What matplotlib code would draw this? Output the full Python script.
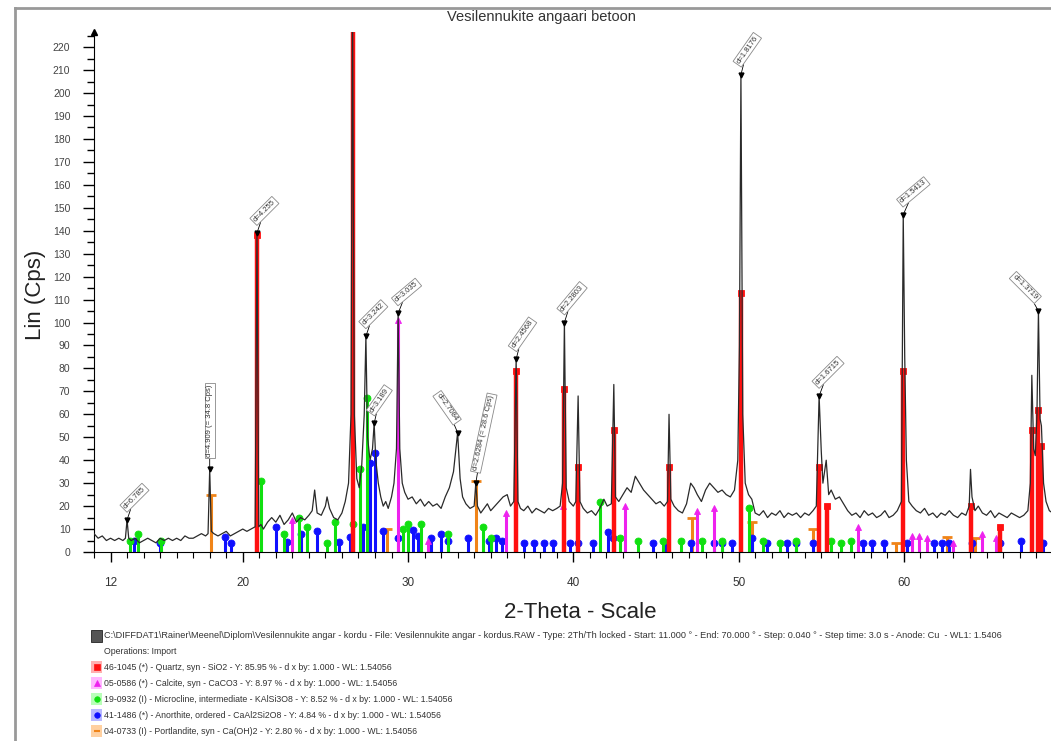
import matplotlib.pyplot as plt
import numpy as np
from matplotlib.lines import Line2D
from matplotlib.patches import Rectangle

plt.rcParams['font.family'] = ['Liberation Sans', 'DejaVu Sans']

W, H = 1051, 741

# measured pattern (2-theta, Lin Cps)
tt = [11.0, 11.25, 11.5, 11.75, 12.0, 12.25, 12.5, 12.75, 12.9, 13.0, 13.1, 13.25, 13.5, 13.75,
      14.0, 14.25, 14.5, 14.75, 15.0, 15.25, 15.5, 15.75, 16.0, 16.25, 16.5, 16.75, 17.0, 17.25,
      17.5, 17.75, 17.9, 18.0, 18.1, 18.25, 18.5, 18.75, 19.0, 19.25, 19.5, 19.75, 20.0, 20.25,
      20.5, 20.75, 20.86, 20.97, 21.1, 21.25, 21.5, 21.75, 22.0, 22.25, 22.5, 22.75, 23.0, 23.25,
      23.5, 23.75, 24.0, 24.2, 24.35, 24.5, 24.75, 25.0, 25.1, 25.25, 25.5, 25.75, 26.0, 26.2,
      26.4, 26.55, 26.64, 26.75, 26.9, 27.05, 27.2, 27.35, 27.45, 27.55, 27.7, 27.85, 27.95, 28.05,
      28.2, 28.35, 28.5, 28.65, 28.8, 29.0, 29.15, 29.3, 29.4, 29.5, 29.65, 29.8, 30.0, 30.25,
      30.5, 30.75, 31.0, 31.25, 31.5, 31.75, 32.0, 32.25, 32.5, 32.75, 33.0, 33.15, 33.3, 33.5,
      33.75, 34.0, 34.1, 34.2, 34.4, 34.6, 34.8, 35.0, 35.25, 35.5, 35.75, 36.0, 36.2, 36.4,
      36.54, 36.65, 36.8, 37.0, 37.25, 37.5, 37.75, 38.0, 38.25, 38.5, 38.75, 39.0, 39.2, 39.35,
      39.46, 39.57, 39.75, 40.0, 40.15, 40.29, 40.4, 40.6, 40.85, 41.1, 41.35, 41.6, 41.85, 42.05,
      42.3, 42.45, 42.55, 42.75, 43.0, 43.25, 43.5, 43.75, 44.0, 44.25, 44.5, 44.75, 45.0, 45.25,
      45.5, 45.7, 45.79, 45.9, 46.1, 46.35, 46.6, 46.85, 47.1, 47.3, 47.5, 47.75, 48.0, 48.25,
      48.5, 48.75, 49.0, 49.25, 49.5, 49.75, 49.95, 50.05, 50.14, 50.25, 50.4, 50.6, 50.8, 51.0,
      51.25, 51.5, 51.75, 52.0, 52.25, 52.5, 52.75, 53.0, 53.25, 53.5, 53.75, 54.0, 54.25, 54.5,
      54.7, 54.87, 55.0, 55.1, 55.3, 55.45, 55.6, 55.85, 56.1, 56.35, 56.6, 56.85, 57.1, 57.35,
      57.6, 57.85, 58.1, 58.35, 58.6, 58.85, 59.1, 59.35, 59.6, 59.85, 59.96, 60.05, 60.15, 60.3,
      60.5, 60.75, 61.0, 61.25, 61.5, 61.75, 62.0, 62.25, 62.5, 62.75, 63.0, 63.25, 63.5, 63.75,
      63.95, 64.03, 64.12, 64.3, 64.5, 64.75, 65.0, 65.25, 65.5, 65.75, 66.0, 66.25, 66.5, 66.75,
      67.0, 67.25, 67.5, 67.65, 67.74, 67.85, 67.95, 68.05, 68.14, 68.24, 68.32, 68.45, 68.6, 68.8,
      69.0]
cps = [8, 6, 7, 5, 6, 5, 6, 5, 6, 14, 6, 5, 6, 4,
       5, 6, 5, 4, 6, 5, 6, 5, 6, 5, 7, 6, 6, 7,
       8, 7, 8, 36, 9, 8, 7, 8, 9, 7, 8, 9, 10, 9,
       10, 11, 139, 11, 12, 10, 13, 15, 13, 16, 12, 14, 17, 13,
       15, 14, 16, 18, 27, 17, 16, 20, 24, 19, 15, 14, 17, 22,
       30, 60, 240, 60, 32, 28, 38, 60, 94, 50, 40, 45, 56, 40,
       30, 24, 20, 22, 19, 24, 30, 45, 104, 45, 30, 26, 23, 24,
       21, 23, 20, 22, 20, 21, 19, 24, 28, 35, 52, 32, 24, 21,
       19, 20, 30, 20, 17, 19, 21, 18, 20, 22, 24, 25, 20, 22,
       84, 22, 19, 18, 20, 17, 19, 18, 17, 19, 18, 19, 20, 30,
       100, 28, 22, 20, 22, 68, 22, 19, 17, 18, 16, 19, 23, 20,
       21, 73, 24, 22, 25, 28, 26, 33, 30, 27, 25, 23, 21, 22,
       20, 22, 60, 23, 20, 18, 17, 21, 30, 28, 25, 22, 27, 30,
       28, 26, 27, 25, 24, 27, 40, 90, 208, 60, 30, 25, 23, 17,
       16, 18, 15, 17, 16, 18, 15, 17, 16, 17, 15, 17, 16, 18,
       20, 68, 44, 30, 40, 25, 27, 23, 24, 21, 18, 16, 17, 15,
       18, 16, 17, 15, 16, 18, 15, 16, 18, 22, 147, 85, 40, 22,
       20, 18, 17, 19, 16, 17, 15, 17, 16, 18, 16, 15, 17, 16,
       20, 36, 24, 18, 20, 17, 16, 18, 15, 17, 16, 15, 17, 16,
       15, 16, 18, 30, 77, 45, 42, 60, 105, 58, 55, 30, 22, 18,
       17]

# reference patterns (stick positions / heights)
quartz_pos = [20.86, 26.64, 36.54, 39.46, 40.29, 42.45, 45.79, 50.14, 54.87, 55.33, 59.96,
              64.03, 65.79, 67.74, 68.14, 68.32]
quartz_int = [138, 240, 79, 71, 37, 53, 37, 113, 37, 20, 79, 20, 11, 53, 62, 46]

calcite_pos = [23.0, 29.4, 31.2, 35.9, 39.4, 43.1, 47.5, 48.5, 57.2, 60.5, 60.9, 61.4, 63.0,
               64.7, 65.6]
calcite_int = [14, 101, 5, 17, 20, 20, 18, 19, 11, 7, 7, 6, 4, 8, 6]

microcline_pos = [13.2, 13.65, 15.05, 21.1, 22.5, 23.4, 23.9, 25.1, 25.6, 26.7, 27.1, 27.5,
                  29.7, 30.0, 30.8, 32.4, 34.55, 35.0, 41.6, 42.8, 43.9, 45.4, 46.5, 47.8,
                  49.0, 50.6, 51.5, 52.5, 53.5, 55.6, 56.2, 56.8]
microcline_int = [5, 8, 5, 31, 8, 15, 11, 4, 13, 12, 36, 67,
                  10, 12, 12, 8, 11, 6, 22, 6, 5, 5, 5, 5,
                  5, 19, 5, 4, 5, 5, 4, 5]

anorthite_pos = [13.4, 15.0, 18.9, 19.3, 22.0, 22.7, 23.5, 24.5, 25.8, 26.5, 27.3, 27.7, 28.0,
                 28.5, 29.4, 30.3, 30.6, 31.4, 32.0, 32.4, 33.6, 34.9, 35.3, 35.7, 37.0, 37.6,
                 38.2, 38.8, 39.8, 40.3, 41.2, 42.1, 42.4, 44.8, 45.6, 47.1, 48.5, 49.0, 49.6,
                 50.8, 51.7, 52.9, 53.5, 54.5, 57.5, 58.1, 58.8, 60.2, 61.8, 62.3, 62.7, 64.1,
                 65.8, 67.1, 68.4]
anorthite_int = [5, 4, 6.5, 4, 11, 4.5, 8, 9, 4.5, 6.5, 11, 39, 43,
                 9, 6, 9.6, 7, 6, 8, 5, 6, 5, 6, 5, 4, 4,
                 4, 4, 4, 4, 4, 8.7, 6, 4, 4, 4, 4, 4, 4,
                 6, 4, 4, 4, 4, 4, 4, 4, 4, 4, 4, 4, 4,
                 4, 5, 4]

portlandite_pos = [18.05, 28.7, 34.1, 47.2, 50.8, 54.5, 59.5, 62.6, 64.3]
portlandite_int = [25, 10, 31, 15, 13, 10, 4, 6.5, 6]

# peak labels
label_pos = [13.0, 18.0, 20.86, 27.45, 27.95, 29.40, 33.0, 34.1, 36.54, 39.46, 50.14, 54.87,
             59.96, 68.14]
label_cps = [14, 36, 139, 94, 56, 104, 52, 30, 84, 100, 208, 68, 147, 105]
label_txt = ['d=6.785', 'd=4.909 (= 34.8 Cps)', 'd=4.255', 'd=3.242', 'd=3.189', 'd=3.035',
             'd=2.7084', 'd=2.6284 (= 28.6 Cps)', 'd=2.4568', 'd=2.2803', 'd=1.8176',
             'd=1.6715', 'd=1.5413', 'd=1.3719']
label_rot = [45, 90, 45, 45, 55, 40, -55, 78, 55, 50, 55, 45, 40, -45]

header = ('C:\\DIFFDAT1\\Rainer\\Meenel\\Diplom\\Vesilennukite angar - kordu - File: Vesilennukite '
          'angar - kordus.RAW - Type: 2Th/Th locked - Start: 11.000 \u00b0 - End: 70.000 \u00b0 - '
          'Step: 0.040 \u00b0 - Step time: 3.0 s - Anode: Cu  - WL1: 1.5406')
phase_txt = ['46-1045 (*) - Quartz, syn - SiO2 - Y: 85.95 % - d x by: 1.000 - WL: 1.54056',
             '05-0586 (*) - Calcite, syn - CaCO3 - Y: 8.97 % - d x by: 1.000 - WL: 1.54056',
             '19-0932 (I) - Microcline, intermediate - KAlSi3O8 - Y: 8.52 % - d x by: 1.000 - WL: 1.54056',
             '41-1486 (*) - Anorthite, ordered - CaAl2Si2O8 - Y: 4.84 % - d x by: 1.000 - WL: 1.54056',
             '04-0733 (I) - Portlandite, syn - Ca(OH)2 - Y: 2.80 % - d x by: 1.000 - WL: 1.54056']

fig = plt.figure(figsize=(W / 100, H / 100), dpi=100)
ax = fig.add_axes([94 / W, 1 - 552 / H, 1 - 94 / W, (552 - 32) / H])

phases = [
    (quartz_pos, quartz_int, '#ff1010', 's', 3.2, '#ffb0b0'),
    (calcite_pos, calcite_int, '#ee22ee', '^', 2.2, '#ffb8ff'),
    (microcline_pos, microcline_int, '#10e010', 'o', 2.2, '#b8ffb8'),
    (anorthite_pos, anorthite_int, '#1010ff', 'o', 2.2, '#b8b8ff'),
    (portlandite_pos, portlandite_int, '#f08418', '_', 2.2, '#ffd0a0'),
]
for pos, inten, col, mk, lw, _ in phases[::-1]:
    ax.vlines(pos, 0, inten, colors=col, lw=lw, zorder=2)
    ax.plot(pos, inten, ls='none', marker=mk, color=col, ms=5 if mk != '_' else 6.5,
            mew=2 if mk == '_' else 0.6, zorder=2)

ax.plot(tt, cps, color='#2a2a2a', lw=0.9, zorder=3)

for x, y, t, r in zip(label_pos, label_cps, label_txt, label_rot):
    ax.plot(x, y, marker='v', color='k', ms=3.5, zorder=5)
    if r < 0:
        ha, va, off = 'right', 'bottom', (-3, 7)
    elif r > 60:
        ha, va, off = 'left', 'center', (0, 9)
    else:
        ha, va, off = 'left', 'bottom', (0, 7)
    ax.annotate(t, xy=(x, y), xytext=off, textcoords='offset points', rotation=r,
                rotation_mode='anchor', ha=ha, va=va, fontsize=5.5, color='#333',
                bbox=dict(boxstyle='square,pad=0.2', fc='white', ec='#888', lw=0.6),
                arrowprops=dict(arrowstyle='-', color='k', lw=0.6, shrinkA=0, shrinkB=0),
                zorder=6, annotation_clip=False)

ax.set_xlim(11, 68.9)
ax.set_ylim(0, 226.6)
ax.set_yticks(np.arange(0, 221, 10))
ax.set_yticks(np.arange(5, 226, 10), minor=True)
ax.set_xticks([12, 20, 30, 40, 50, 60])
ax.set_xticks(np.arange(11, 69, 1), minor=True)
ax.tick_params(axis='y', which='major', direction='out', length=8, width=1, labelsize=7.5,
               pad=9, labelcolor='#444')
ax.tick_params(axis='y', which='minor', direction='out', length=5, width=1)
ax.tick_params(axis='x', which='major', direction='out', length=7, width=1, labelsize=8.5,
               pad=11, labelcolor='#333')
ax.tick_params(axis='x', which='minor', direction='out', length=4, width=0.8)
for s in ['top', 'right']:
    ax.spines[s].set_visible(False)
ax.plot(0, 1, marker='^', color='k', ms=4, transform=ax.transAxes, clip_on=False)

fig.text(541 / W, 1 - 17 / H, 'Vesilennukite angaari betoon', ha='center', va='center',
         fontsize=10.5, color='#333')
fig.text(35 / W, 1 - 295 / H, 'Lin (Cps)', rotation=90, ha='center', va='center',
         fontsize=16, color='#222')
fig.text(580 / W, 1 - 613 / H, '2-Theta - Scale', ha='center', va='center', fontsize=16,
         color='#222')

# frame
fig.add_artist(Line2D([15 / W, 15 / W], [0, 1 - 8 / H], color='#999', lw=2))
fig.add_artist(Line2D([15 / W, 1], [1 - 8 / H, 1 - 8 / H], color='#999', lw=2))

# legend block
rows = [636, 651, 667, 683, 699, 715, 731]
fig.add_artist(Rectangle((91 / W, 1 - 642 / H), 11 / W, 12 / H, fc='#555', ec='#222', lw=0.6))
fig.text(104 / W, 1 - rows[0] / H, header, fontsize=6.6, va='center', color='#333')
fig.text(104 / W, 1 - rows[1] / H, 'Operations: Import', fontsize=6.3, va='center', color='#333')
for (pos, inten, col, mk, lw, pale), py, txt in zip(phases, rows[2:], phase_txt):
    fig.add_artist(Rectangle((91 / W, 1 - (py + 6) / H), 11 / W, 12 / H, fc=pale, ec='none'))
    fig.add_artist(Line2D([96.5 / W], [1 - py / H], marker=mk, color=col, ms=4,
                          mew=1.5 if mk == '_' else 0.5))
    fig.text(104 / W, 1 - py / H, txt, fontsize=6.3, va='center', color='#333')

fig.savefig('out.png', dpi=100)
